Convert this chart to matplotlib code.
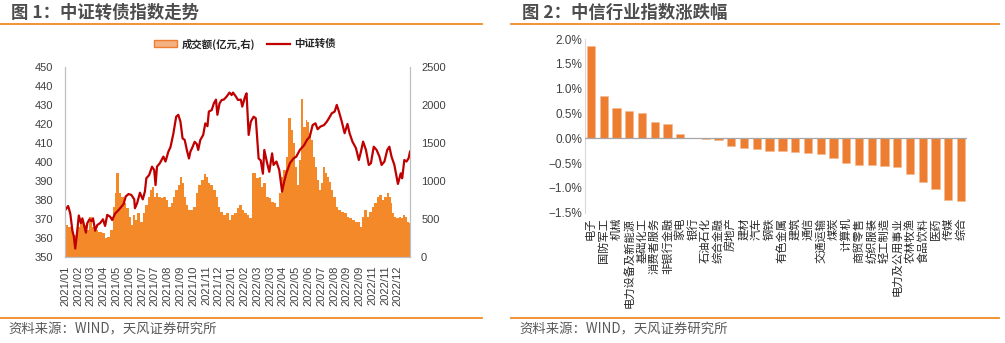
import matplotlib.pyplot as plt
import numpy as np
from matplotlib.ticker import PercentFormatter
from matplotlib.lines import Line2D
from matplotlib.patches import Patch

CJK = ['Noto Sans CJK SC', 'DejaVu Sans']
NUM = ['Liberation Sans', 'Noto Sans CJK SC']
plt.rcParams['font.family'] = NUM

# ---- chart 1: convertible bond index and turnover (trading-day index) ----
line_day = [0, 4, 7, 10, 12, 14, 16, 19, 22, 24, 27, 29, 31, 34, 37, 39, 42, 45, 49, 53,
            56, 59, 63, 66, 70, 75, 79, 82, 85, 89, 93, 97, 98, 101, 105, 109, 112, 114, 118, 122,
            125, 127, 129, 133, 138, 141, 145, 148, 152, 156, 159, 162, 165, 168, 171, 174, 176, 179, 182, 185,
            187, 190, 194, 197, 200, 202, 206, 209, 212, 214, 217, 220, 223, 227, 231, 234, 236, 240, 243, 247,
            249, 253, 255, 258, 261, 265, 268, 272, 275, 278, 280, 284, 287, 291, 293, 297, 301, 305, 308, 311,
            316, 321, 325, 330, 336, 340, 344, 348, 352, 355, 359, 364, 368, 371, 375, 379, 382, 385, 389, 393,
            397, 400, 404, 409, 413, 416, 419, 423, 427, 430, 434, 438, 442, 445, 449, 453, 456, 459, 463, 466,
            468, 472, 474, 477, 480, 483, 485]
index_close = [374.9, 377.0, 373.0, 364.0, 361.0, 354.6, 361.0, 372.0, 368.0, 370.5, 366.0, 363.0, 368.0, 370.0, 369.0, 370.5, 364.0, 367.0, 368.0, 370.0,
               366.5, 372.3, 371.4, 369.6, 373.0, 374.9, 376.7, 378.0, 382.0, 383.3, 382.8, 380.5, 375.8, 378.4, 384.0, 380.5, 384.6, 391.6, 393.3, 397.7,
               396.0, 388.0, 397.7, 399.5, 403.0, 400.4, 405.6, 408.0, 415.0, 424.0, 425.0, 421.4, 412.6, 411.8, 406.5, 402.0, 405.6, 408.0, 410.8, 409.6,
               406.5, 411.8, 414.4, 420.5, 419.0, 426.7, 427.5, 431.0, 433.0, 425.0, 431.0, 432.8, 433.0, 434.6, 436.7, 435.4, 436.7, 434.6, 432.8, 433.0,
               429.3, 434.6, 436.3, 414.4, 421.4, 424.0, 423.2, 402.0, 401.0, 394.0, 406.5, 399.5, 395.0, 404.7, 398.6, 400.4, 396.0, 384.6, 389.8, 394.2,
               399.5, 402.0, 403.0, 406.5, 409.0, 411.8, 413.5, 419.6, 420.5, 417.4, 418.8, 419.6, 421.4, 423.2, 425.8, 426.7, 430.2, 426.7, 421.4, 415.3,
               420.2, 415.3, 410.9, 407.4, 401.2, 405.6, 410.9, 406.5, 398.6, 399.5, 408.2, 406.5, 403.0, 398.6, 400.4, 406.5, 408.2, 403.0, 398.6, 392.5,
               388.6, 394.2, 391.6, 401.2, 400.4, 402.1, 405.6]

vol_day = [0, 4, 9, 12, 16, 21, 25, 30, 34, 37, 42, 46, 51, 56, 59, 63, 67, 70, 72, 75,
           78, 82, 85, 89, 92, 95, 98, 101, 105, 109, 112, 116, 119, 122, 125, 127, 130, 134, 138, 141,
           145, 149, 152, 155, 159, 162, 164, 167, 170, 173, 176, 180, 184, 187, 191, 195, 198, 201, 204, 208,
           212, 215, 218, 222, 226, 230, 233, 237, 241, 245, 248, 252, 256, 259, 263, 265, 269, 272, 275, 278,
           282, 286, 290, 293, 297, 300, 303, 307, 310, 314, 317, 321, 323, 326, 329, 332, 335, 338, 340, 343,
           346, 349, 352, 354, 357, 360, 363, 366, 368, 371, 374, 377, 381, 384, 388, 392, 396, 399, 403, 407,
           411, 414, 417, 420, 424, 428, 431, 434, 438, 442, 445, 449, 452, 455, 456, 458, 460, 463, 466, 470,
           472, 475, 478, 481, 484]
turnover = [425, 404, 338, 294, 404, 447, 425, 360, 535, 404, 360, 338, 316, 250, 272, 360, 667, 842, 1105, 842,
            798, 711, 645, 535, 425, 557, 491, 579, 469, 579, 689, 798, 886, 930, 798, 842, 798, 776, 798, 754,
            667, 711, 798, 886, 952, 1061, 974, 798, 689, 623, 623, 667, 842, 952, 1018, 1096, 1061, 974, 952, 886,
            798, 667, 601, 557, 579, 491, 557, 579, 645, 689, 623, 579, 557, 513, 1105, 1105, 1039, 1061, 930, 974,
            798, 776, 732, 711, 667, 842, 1061, 1149, 1325, 1829, 1675, 1500, 1193, 952, 1281, 2079, 1719, 1807, 1785, 1632,
            1544, 1325, 1193, 1018, 886, 974, 1193, 1105, 1061, 996, 886, 798, 667, 623, 601, 579, 535, 513, 491, 469,
            469, 404, 535, 623, 535, 601, 667, 711, 798, 820, 754, 798, 842, 0, 798, 711, 579, 535, 513, 535,
            513, 557, 535, 469, 447]

n_days = 485
tick_step = 18
date_labels = ['2021/01', '2021/02', '2021/03', '2021/04', '2021/05', '2021/06', '2021/07', '2021/07',
               '2021/08', '2021/09', '2021/10', '2021/11', '2021/12', '2022/01', '2022/02', '2022/03',
               '2022/03', '2022/04', '2022/05', '2022/06', '2022/07', '2022/08', '2022/09', '2022/09',
               '2022/11', '2022/11', '2022/12']

# ---- chart 2: CITIC industry index changes (%) ----
industries = ['电子', '国防军工', '机械', '电力设备及新能源', '基础化工', '消费者服务', '非银行金融', '家电',
              '银行', '石油石化', '综合金融', '房地产', '建材', '汽车', '钢铁', '有色金属', '建筑', '通信',
              '交通运输', '煤炭', '计算机', '商贸零售', '纺织服装', '轻工制造', '电力及公用事业', '农林牧渔',
              '食品饮料', '医药', '传媒', '综合']
pct_change = [1.85, 0.85, 0.60, 0.55, 0.51, 0.32, 0.29, 0.09, 0.00, -0.02, -0.04, -0.16, -0.19, -0.22, -0.26,
              -0.26, -0.28, -0.30, -0.32, -0.39, -0.49, -0.53, -0.53, -0.55, -0.57, -0.72, -0.89, -1.02, -1.24, -1.26]

ORANGE = '#F08A24'
BAR_L = '#F4892A'
BAR_R = '#ED7D31'
LINE_RED = '#C00000'
TITLE_C = '#4D4D4D'
TEXT_C = '#404040'

W, H = 1005, 343
fig = plt.figure(figsize=(W / 100, H / 100), dpi=100)


def fx(px):
    return px / W


def fy(py):
    return 1 - py / H


# headers, rules and source notes
for x0, x1, title in [(0, 482, '图 1：中证转债指数走势'), (511, 999, '图 2：中信行业指数涨跌幅')]:
    fig.text(fx(x0 + 11), fy(12.5), title, family=CJK, fontsize=12.5, fontweight='bold',
             color=TITLE_C, va='center', ha='left')
    fig.add_artist(Line2D([fx(x0), fx(x1)], [fy(24), fy(24)], color=ORANGE, lw=1.3))
    fig.add_artist(Line2D([fx(x0), fx(x1)], [fy(318), fy(318)], color=ORANGE, lw=1.3))
    fig.text(fx(x0 + 8), fy(329), '资料来源：WIND，天风证券研究所', family=CJK, fontsize=9.6,
             color='#595959', va='center', ha='left')

# ---- left panel ----
ax = fig.add_axes([fx(65.3), fy(257.3), fx(410 - 65.3), fy(67.3) - fy(257.3)])
ax2 = ax.twinx()

vd = np.array(vol_day, dtype=float)
widths = np.diff(np.append(vd, n_days))
ax2.bar(vd, turnover, width=widths, align='edge', color=BAR_L, linewidth=0)
ax.plot(line_day, index_close, color=LINE_RED, lw=1.6)

ax.set_zorder(ax2.get_zorder() + 1)
ax.patch.set_visible(False)

ax.set_xlim(0, n_days)
ax.set_ylim(350, 450)
ax.set_yticks(np.arange(350, 451, 10))
ax2.set_ylim(0, 2500)
ax2.set_yticks(np.arange(0, 2501, 500))
ax.set_xticks(np.arange(len(date_labels)) * tick_step)
ax.set_xticklabels(date_labels, rotation=90)

for a in (ax, ax2):
    a.tick_params(length=0, labelsize=8, labelcolor=TEXT_C)
    a.spines['top'].set_visible(False)
    for s in ('left', 'right', 'bottom'):
        a.spines[s].set_color('#BFBFBF')
        a.spines[s].set_linewidth(0.8)
ax.tick_params(axis='y', pad=9)
ax.tick_params(axis='x', pad=6)
ax2.tick_params(axis='y', pad=8)

handles = [Patch(facecolor='#F4B183', edgecolor=BAR_R, linewidth=1.0, label='成交额(亿元,右)'),
           Line2D([], [], color=LINE_RED, lw=1.6, label='中证转债')]
fig.legend(handles=handles, loc='center', bbox_to_anchor=(fx(245), fy(44)), ncol=2, frameon=False,
           prop={'family': CJK, 'size': 7.5, 'weight': 'bold'}, handlelength=2.2, handleheight=0.6,
           columnspacing=1.2, handletextpad=0.4, labelcolor='#262626')

# ---- right panel ----
bx = fig.add_axes([fx(585), fy(212.7), fx(967 - 585), fy(39) - fy(212.7)])
pos = np.arange(len(industries))
bx.bar(pos, pct_change, width=0.65, color=BAR_R, edgecolor='#F6B98E', linewidth=0.4, zorder=2)
bx.axhline(0, color='#A6A6A6', lw=0.9, zorder=3)
bx.set_xlim(-0.47, len(industries) - 0.53)
bx.set_ylim(-1.5, 2.0)
bx.set_yticks(np.arange(-1.5, 2.01, 0.5))
bx.yaxis.set_major_formatter(PercentFormatter(decimals=1))
bx.tick_params(axis='y', length=0, labelsize=8.5, labelcolor=TEXT_C, pad=2)
bx.set_xticks([])
for s in ('top', 'right', 'bottom'):
    bx.spines[s].set_visible(False)
bx.spines['left'].set_color('#D9D9D9')
bx.spines['left'].set_linewidth(0.8)

for p, name in zip(pos, industries):
    bx.text(p, -1.5 - 0.1, name, transform=bx.transData, rotation=90, ha='center', va='top',
            family=CJK, fontsize=8.1, color='#262626')

fig.savefig('out.png', dpi=100)
